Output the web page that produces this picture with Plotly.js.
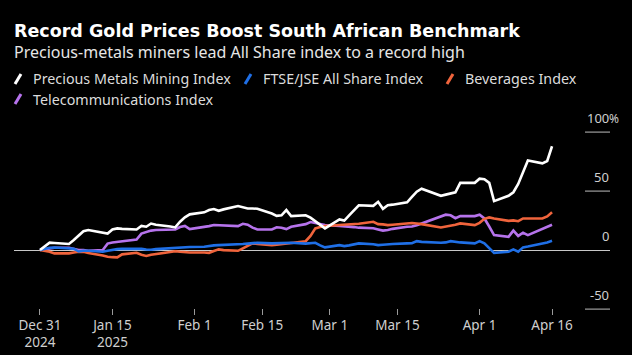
<!DOCTYPE html>
<html><head><meta charset="utf-8">
<script src="https://cdn.plot.ly/plotly-3.0.1.min.js"></script>
<style>html,body{margin:0;padding:0;background:#000;}#chart{width:632px;height:355px;}</style>
</head><body><div id="chart"></div>
<script>
const dates = ['2024-12-31',
'2025-01-02','2025-01-03','2025-01-06','2025-01-07','2025-01-08','2025-01-09','2025-01-10','2025-01-13','2025-01-14','2025-01-15','2025-01-16','2025-01-17','2025-01-20','2025-01-21','2025-01-22','2025-01-23','2025-01-24','2025-01-27','2025-01-28','2025-01-29','2025-01-30','2025-01-31',
'2025-02-03','2025-02-04','2025-02-05','2025-02-06','2025-02-07','2025-02-10','2025-02-11','2025-02-12','2025-02-13','2025-02-14','2025-02-17','2025-02-18','2025-02-19','2025-02-20','2025-02-21','2025-02-24','2025-02-25','2025-02-26','2025-02-27','2025-02-28',
'2025-03-03','2025-03-04','2025-03-05','2025-03-06','2025-03-07','2025-03-10','2025-03-11','2025-03-12','2025-03-13','2025-03-14','2025-03-17','2025-03-18','2025-03-19','2025-03-20','2025-03-24','2025-03-25','2025-03-26','2025-03-27','2025-03-28','2025-03-31',
'2025-04-01','2025-04-02','2025-04-03','2025-04-04','2025-04-07','2025-04-08','2025-04-09','2025-04-10','2025-04-11','2025-04-14','2025-04-15','2025-04-16'];

const preciousMetals = [0,
6.3,6,5.2,8.5,12.5,16,17,14.5,14,17.5,18.4,18,17.5,20.5,19.8,22.5,21.5,20,19.2,24,27.7,30.3,
32,34,34.8,33.3,34.5,37.3,36.5,35.3,35.3,35,31,29,29.5,33.9,28.8,29.5,27.5,24.5,21,18.4,
26,25,29.5,34,38,37.5,40.9,35,38,38.5,40.5,45,49.5,52,46,47,48,49,57,57,
60.5,60,57,41.5,46,49,56,66,76,73.5,75.5,88];

const allShare = [0,
2,2.2,1.5,1.2,-1.2,-0.5,-0.5,-1.4,-0.5,0.3,0.8,1.2,1.4,1,0.5,0.3,0.8,1.5,1.8,2.3,2.8,2.6,
2.8,3.5,4,4.2,4.3,4.8,5.2,5.5,5.8,6.2,5.7,5.8,6.2,6.5,6.2,5.5,6,6.2,4,2.3,
4.2,3.4,4,5,5.7,5,4.2,4.5,5.1,5.2,5.7,5.8,7.6,7,6.2,6.5,7.6,7,6.5,5.7,
7.6,5.7,2,-2.3,-1.4,0.6,-1.4,2.3,3,5.5,6.5,7.9];

const beverages = [0,
-1.4,-2.8,-2.8,-2,-1.4,-1.5,-2.5,-4.5,-5.6,-6,-6.2,-3.6,-2.3,-4,-5,-4,-3.4,-1.4,-1,-1.4,-2,-2,
-2,-2.3,-0.8,0.6,0,-0.6,1.5,3.8,5.7,5.3,4.2,4.5,5,5.7,6.5,7.5,12,18.4,19.5,20.3,
21.2,21.5,21.8,22,22.3,24,22,21.8,21.2,21.5,23.1,23,22.5,22,19.2,19.8,20.5,21.5,22.6,21.2,
23.1,26.5,27.7,26.8,24.8,25.2,24.5,26.8,26.8,26.8,28.5,32];

const telecom = [0,
1.5,2,2,1,0,0,-0.5,0,5.5,6.5,7,8,9,14,15.5,16.5,17,17.3,17.5,19.5,20.5,17.8,
19.2,20.3,21.2,21,20.8,20.3,22.3,21.5,19,17.5,17.5,19.3,19,17.8,19.8,22,23.8,23,22.5,21.2,
20.5,20.3,20,19.5,19,18.5,17.5,16.5,17,18,19.8,20,21,22.5,28.5,30,29.5,27,28.8,28.8,
30,26.8,20,12.7,11.3,16.5,12,14.7,12.7,18,19.5,21.5];

const seriesNames = ['Precious Metals Mining Index','FTSE/JSE All Share Index','Beverages Index','Telecommunications Index'];
const seriesColors = ['#ffffff','#1f6fe6','#f0643c','#b673ec'];

const xTickVals = ['2024-12-31','2025-01-15','2025-02-01','2025-02-15','2025-03-01','2025-03-15','2025-04-01','2025-04-16'];
const xTickText = ['Dec 31<br>2024','Jan 15<br>2025','Feb 1','Feb 15','Mar 1','Mar 15','Apr 1','Apr 16'];
const yTickVals = [100,50,0,-50];
const yTickText = ['100','50','0','-50'];

const W = 632, H = 355, ML = 14, MR = 22, MT = 125, MB = 40;
const PW = W - ML - MR, PH = H - MT - MB;
const px = x => (x - ML) / PW;
const py = y => (H - MB - y) / PH;

const seriesData = [preciousMetals, allShare, beverages, telecom];
const drawOrder = [3, 2, 1, 0];
const traces = drawOrder.map(i => ({
  x: dates, y: seriesData[i], type: 'scatter', mode: 'lines', name: seriesNames[i],
  line: {color: seriesColors[i], width: 2.6}, hoverinfo: 'skip', showlegend: false
}));

const FONT = 'Noto Sans, Open Sans, DejaVu Sans, sans-serif';
const annotations = [];
const shapes = [];

annotations.push({xref:'paper', yref:'paper', x: px(12), y: py(52), xanchor:'left', yanchor:'middle', showarrow:false,
  text:'Precious-metals miners lead All Share index to a record high', font:{family:FONT, size:16, color:'#e6e6e6'}});

const legendPos = [[15,79],[245,79],[447,79],[15,99]];
seriesNames.forEach((n, i) => {
  const [lx, ly] = legendPos[i];
  shapes.push({type:'line', xref:'paper', yref:'paper', x0:px(lx), y0:py(ly+5), x1:px(lx+6), y1:py(ly-5),
    line:{color:seriesColors[i], width:3}});
  annotations.push({xref:'paper', yref:'paper', x:px(lx+16), y:py(ly), xanchor:'left', yanchor:'middle', showarrow:false,
    text:n, font:{family:FONT, size:14.3, color:'#dcdcdc'}});
});

yTickVals.forEach((v, i) => {
  if (v !== 0) {
    shapes.push({type:'line', xref:'paper', yref:'y', x0:px(585), x1:px(610), y0:v, y1:v, line:{color:'#bdbdbd', width:1}});
  }
  annotations.push({xref:'paper', yref:'y', x:px(611), y:v, xanchor:'right', yanchor:'bottom', yshift:3, showarrow:false,
    text:yTickText[i], font:{family:FONT, size:13, color:'#cfcfcf'}});
  if (i === 0) {
    annotations.push({xref:'paper', yref:'y', x:px(611), y:v, xanchor:'left', yanchor:'bottom', yshift:3, xshift:-4, showarrow:false,
      text:'%', font:{family:FONT, size:12, color:'#cfcfcf'}});
  }
});

const layout = {
  width: W, height: H,
  paper_bgcolor:'#000', plot_bgcolor:'#000',
  margin:{l:ML, r:MR, t:MT, b:MB, pad:0},
  title:{text:'<b>Record Gold Prices Boost South African Benchmark</b>', xref:'container', yref:'container',
    x: 14/W, xanchor:'left', y: 1 - 31/H, yanchor:'middle', font:{family:'DejaVu Sans, Noto Sans, sans-serif', size:17.5, color:'#ffffff'}},
  xaxis:{type:'date', range:['2024-12-25 15:00','2025-04-28 00:00'], tickmode:'array', tickvals:xTickVals, ticktext:xTickText,
    showgrid:false, zeroline:false, showline:false, ticks:'inside', ticklen:6, tickcolor:'#9a9a9a', tickwidth:1,
    tickfont:{family:FONT, size:13.5, color:'#cfcfcf'}, fixedrange:true},
  yaxis:{range:[-55,106], showgrid:false, showticklabels:false, ticks:'', zeroline:true, zerolinecolor:'#c8c8c8', zerolinewidth:1,
    showline:false, fixedrange:true},
  showlegend:false,
  annotations: annotations,
  shapes: shapes
};

Plotly.newPlot('chart', traces, layout, {displayModeBar:false, staticPlot:true});
</script></body></html>
